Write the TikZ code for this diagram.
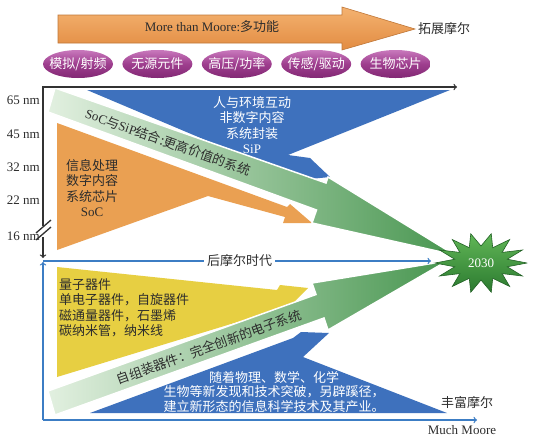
\documentclass[tikz,border=0pt]{standalone}
\usepackage{fontspec}
\setmainfont{Noto Sans CJK SC}
\newfontfamily\en{Liberation Serif}
\usepackage{xcolor}
\usepackage{tikz}
\usetikzlibrary{positioning, shapes.geometric}
\usetikzlibrary{calc}
\definecolor{barlight}{RGB}{244,178,112}
\definecolor{bardark}{RGB}{226,140,66}
\definecolor{pilllight}{RGB}{200,120,188}
\definecolor{pillmid}{RGB}{158,62,142}
\definecolor{pilldark}{RGB}{130,40,116}
\definecolor{bluefill}{RGB}{62,113,189}
\definecolor{orangefill}{RGB}{234,160,82}
\definecolor{yellowfill}{RGB}{231,207,66}
\definecolor{greenlight}{RGB}{226,240,224}
\definecolor{greendark}{RGB}{72,150,80}
\definecolor{starlight}{RGB}{96,182,86}
\definecolor{stardark}{RGB}{44,122,48}
\definecolor{axisgray}{RGB}{50,50,50}
\definecolor{axisblue}{RGB}{60,125,196}
\definecolor{darktext}{RGB}{45,45,45}
\newcommand{\fs}{\fontsize{13}{15.5}\selectfont}
\tikzstyle{lbl} = [inner sep=1pt, text=darktext]
\tikzstyle{wlbl} = [inner sep=1pt, text=white, align=center]
\tikzstyle{nm} = [inner sep=1pt, anchor=east, text=darktext, font=\fs\en]
\tikzstyle{pill} = [ellipse, minimum width=70pt, minimum height=28pt, inner xsep=-10pt, inner ysep=0pt, top color=pilllight, bottom color=pilldark, middle color=pillmid, text=white]
\tikzstyle{topbar} = [top color=barlight, bottom color=bardark, draw=bardark!85!black, line width=0.6pt]
\tikzstyle{greenband} = [left color=greenlight, right color=greendark, draw=white, line width=1.5pt]
\tikzstyle{starfill} = [top color=starlight, bottom color=stardark, draw=stardark!80!black, line width=0.6pt]
\tikzstyle{axisk} = [line width=1.3pt, draw=axisgray, ->, >=to]
\tikzstyle{axisb} = [line width=1.3pt, draw=axisblue, ->, >=to]
\begin{document}
\begin{tikzpicture}[x=1pt, y=-1pt, font=\fs]
		\fill[white] (0,0) rectangle (533,440);
		\useasboundingbox (0,0) rectangle (533,440);
		% top arrow and pills
		\path[topbar] (58,15) -- (342,15) -- (342,7) -- (415,29) -- (342,50) -- (342,43) -- (58,43) -- cycle;
		\node (mtm) [lbl] at (212,27) {{\en More than Moore:}多功能};
		\node (tuozhan) [lbl, anchor=west] at (417,29) {拓展摩尔};
		\node (pill1) [pill] at (78,64) {模拟/射频};
		\node (pill2) [pill, right=9pt of pill1] {无源元件};
		\node (pill3) [pill, right=9pt of pill2] {高压/功率};
		\node (pill4) [pill, right=9pt of pill3] {传感/驱动};
		\node (pill5) [pill, right=9pt of pill4] {生物芯片};
		% upper half
		\fill[bluefill] (87,90) -- (450,90) -- (288,155) -- (310,158) -- (330,177) -- (300,180) -- cycle;
		\fill[orangefill] (57,123) -- (287,207) -- (290,204) -- (312,223) -- (283,223) -- (285,217) -- (208,196) -- (57,250) -- cycle;
		\path[greenband] (55,88) -- (326,183) -- (328,177) -- (455,255) -- (312,223) -- (316.5,210) -- (48,112) -- cycle;
		% lower half
		\fill[yellowfill] (57,267) -- (277,290) -- (280,285) -- (308,288) -- (290,306) -- (57,377) -- cycle;
		\fill[bluefill] (90,413) -- (293,338) -- (301,332) -- (329,333) -- (303,357) -- (447,413) -- cycle;
		\path[greenband] (48,391) -- (316,294.5) -- (312,283) -- (447,261) -- (328,330) -- (324,318) -- (55,415) -- cycle;
		% axes
		\coordinate (kcorner) at (43,87);
		\coordinate (kright) at (457,87);
		\coordinate (kcut) at (43,226);
		\coordinate (kgo) at (43,237);
		\coordinate (kdown) at (43,258);
		\coordinate (bstart) at (43,261);
		\coordinate (borigin) at (43,420);
		\coordinate (btop) at (43,262);
		\coordinate (bmid) at (431,261);
		\coordinate (bright) at (477,420);
		\draw[axisk] (kcut) -- (kcorner) -- (kright);
		\draw[axisk] (kgo) -- (kdown);
		\draw[axisk, -] (36,233) -- (51,220);
		\draw[axisk, -] (36,240) -- (51,227);
		\draw[axisb] (borigin) -- (btop);
		\draw[axisb] (bstart) -- node (postm) [lbl, fill=white, inner xsep=3pt, pos=0.507] {后摩尔时代} (bmid);
		\draw[axisb] (borigin) -- (bright);
		\node (n65) [nm] at (41,100) {65 nm};
		\node (n45) [nm] at (41,134) {45 nm};
		\node (n32) [nm] at (41,167) {32 nm};
		\node (n22) [nm] at (41,200) {22 nm};
		\node (n16) [nm] at (41,236) {16 nm};
		\node (fengfu) [lbl] at (467,403) {丰富摩尔};
		\node (muchm) [lbl, font=\fs\en] at (462,430) {Much Moore};
		% star
		\path[starfill, shift={(481,263)}] (0:46 and 30) \foreach \a in {0,...,13} { -- (\a*25.714+12.857:27 and 17) -- (\a*25.714+25.714:46 and 30) } -- cycle;
		\node (year) [wlbl, font=\fs\en] at (481,263) {2030};
		% texts in shapes
		\node (sip) [wlbl] at (252,125) {人与环境互动\\非数字内容\\系统封装\\{\en SiP}};
		\node (soc) [lbl, align=center] at (92,188) {信息处理\\数字内容\\系统芯片\\{\en SoC}};
		\node (socsip) [lbl, rotate=-19.5] at (168,142) {{\en SoC}与{\en SiP}结合:更高价值的系统};
		\node (quantum) [lbl, align=left, anchor=west] at (58,308) {量子器件\\单电子器件，自旋器件\\磁通量器件，石墨烯\\碳纳米管，纳米线};
		\node (selfasm) [lbl, rotate=19.8] at (209,347) {自组装器件：完全创新的电子系统};
		\node (newinfo) [wlbl, font=\fontsize{13}{14.5}\selectfont] at (274,392) {随着物理、数学、化学\\生物等新发现和技术突破，另辟蹊径，\\建立新形态的信息科学技术及其产业。};
	\end{tikzpicture}
\end{document}
